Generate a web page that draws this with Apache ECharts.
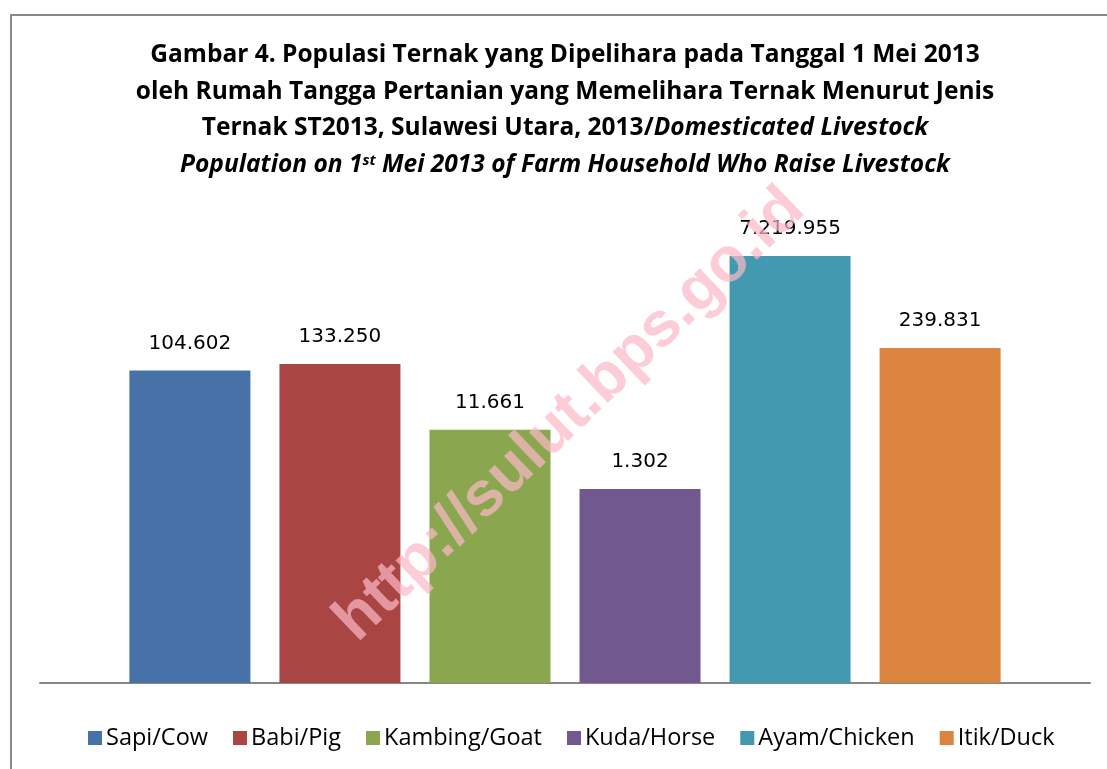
<!DOCTYPE html>
<html>
<head>
<meta charset="utf-8">
<script src="https://cdn.jsdelivr.net/npm/echarts@6/dist/echarts.min.js"></script>
<style>
html,body{margin:0;padding:0;background:#fff;}
#chart{width:1107px;height:769px;}
</style>
</head>
<body>
<div id="chart"></div>
<script>
const seriesNames = ['Sapi/Cow', 'Babi/Pig', 'Kambing/Goat', 'Kuda/Horse', 'Ayam/Chicken', 'Itik/Duck'];
const seriesValues = [104602, 133250, 11661, 1302, 7219955, 239831];
const seriesColors = ['#4672A8', '#A94644', '#8AA64F', '#71588F', '#4299B0', '#DB843D'];
const categories = [''];

function fmt(v) {
  return String(v).replace(/\B(?=(\d{3})+(?!\d))/g, '.');
}

const chart = echarts.init(document.getElementById('chart'), null, {renderer: 'canvas'});
const titleFont = '"Open Sans", sans-serif';
const base = {fontFamily: titleFont, fontWeight: 'bold', fontSize: 24.5, color: '#000', align: 'center', lineHeight: 36.5};

const series = seriesNames.map((name, i) => ({
  name: name,
  type: 'bar',
  z: 2,
  data: [seriesValues[i]],
  barWidth: 121,
  barGap: '24%',
  itemStyle: {color: seriesColors[i]},
  label: {
    show: true,
    position: 'top',
    distance: 17,
    formatter: p => fmt(p.value),
    fontFamily: '"DejaVu Sans", sans-serif',
    fontSize: 20,
    color: '#000'
  }
}));

chart.setOption({
  animation: false,
  backgroundColor: '#fff',
  title: {
    left: 565,
    textAlign: 'center',
    top: 37,
    padding: 0,
    text: '{b|Gambar 4. Populasi Ternak yang Dipelihara pada Tanggal 1 Mei 2013}\n' +
          '{b|oleh Rumah Tangga Pertanian yang Memelihara Ternak Menurut Jenis}\n' +
          '{b|Ternak ST2013, Sulawesi Utara, 2013/}{i|Domesticated Livestock}\n' +
          '{i|Population on 1}{s|st}{i| Mei 2013 of Farm Household Who Raise Livestock}',
    textStyle: {
      rich: {
        b: Object.assign({}, base),
        i: Object.assign({}, base, {fontStyle: 'italic'}),
        s: Object.assign({}, base, {fontStyle: 'italic', fontSize: 15, lineHeight: 15, verticalAlign: 'top', padding: [7, 0, 0, 0]})
      }
    }
  },
  legend: {
    bottom: 14,
    left: 83,
    itemWidth: 14,
    itemHeight: 14,
    itemGap: 25,
    icon: 'rect',
    textStyle: {fontFamily: '"Open Sans", sans-serif', fontSize: 23.5, color: '#000', padding: [0, 0, 0, -1]},
    data: seriesNames
  },
  grid: {left: 40, right: 17, top: 185, bottom: 86, containLabel: false},
  xAxis: {
    type: 'category',
    data: categories,
    axisLine: {lineStyle: {color: '#868686', width: 2}},
    axisTick: {show: false},
    axisLabel: {show: false}
  },
  yAxis: {
    type: 'log',
    logBase: 10,
    min: 1,
    max: 100000000,
    show: false,
    splitLine: {show: false}
  },
  graphic: [
    {
      type: 'rect',
      z: 100,
      shape: {x: 11, y: 15, width: 1300, height: 1000},
      style: {fill: 'none', stroke: '#898989', lineWidth: 2},
      silent: true
    },
    {
      type: 'text',
      z: 2,
      z2: 5,
      x: 570,
      y: 415,
      rotation: 0.765,
      style: {
        text: 'http://sulut.bps.go.id',
        font: 'bold 63px "Liberation Sans", Arial, sans-serif',
        fill: 'rgba(252, 184, 199, 0.71)',
        textAlign: 'center',
        textVerticalAlign: 'middle'
      },
      silent: true
    }
  ],
  series: series
});
</script>
</body>
</html>
